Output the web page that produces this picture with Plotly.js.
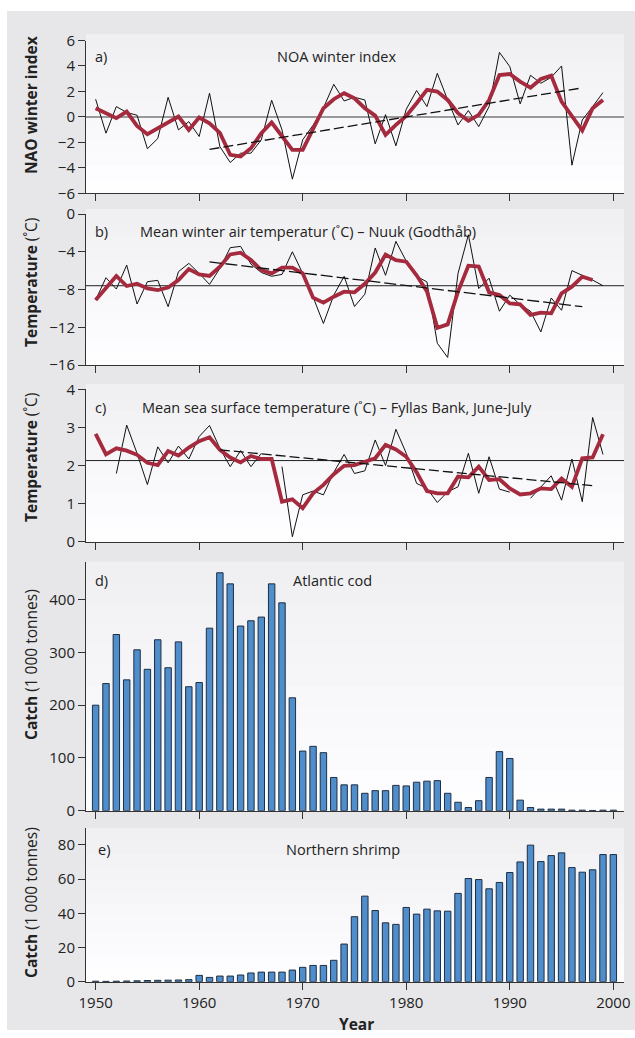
<!DOCTYPE html>
<html>
<head>
<meta charset="utf-8">
<script src="https://cdn.plot.ly/plotly-3.0.1.min.js"></script>
<style>html,body{margin:0;padding:0;background:#fff;}#chart{width:635px;height:1038px;}</style>
</head>
<body>
<div id="chart"></div>
<script>
// ---------- DATA ----------
var years = [1950,1951,1952,1953,1954,1955,1956,1957,1958,1959,
             1960,1961,1962,1963,1964,1965,1966,1967,1968,1969,
             1970,1971,1972,1973,1974,1975,1976,1977,1978,1979,
             1980,1981,1982,1983,1984,1985,1986,1987,1988,1989,
             1990,1991,1992,1993,1994,1995,1996,1997,1998,1999];
var barYears = years.concat([2000]);

// a) NAO winter index
var naoIndex = [1.39,-1.28,0.81,0.35,0.13,-2.5,-1.7,1.54,-1.02,-0.37,
                -1.54,1.86,-2.33,-3.58,-2.85,-2.85,-1.8,1.31,-1.02,-4.89,
                -1.8,-0.65,0.7,2.56,1.25,1.54,1.33,-2.12,0.18,-2.27,
                0.6,2.07,0.81,3.42,1.33,-0.63,0.5,-0.76,0.81,5.07,
                3.95,1.02,3.27,2.64,3.11,4.0,-3.79,-0.24,0.81,1.91];
var naoSmooth = [0.68,0.29,-0.1,0.42,-0.71,-1.36,-0.89,-0.37,0.03,-1.02,
                 -0.05,-0.5,-1.25,-2.98,-3.11,-2.46,-1.28,-0.44,-1.54,-2.59,
                 -2.59,-0.89,0.68,1.39,1.86,1.46,0.68,0.1,-1.41,-0.63,
                 0.08,1.07,2.12,1.99,1.33,0.29,-0.31,0.16,1.33,3.29,
                 3.37,2.77,2.3,2.98,3.24,1.2,0.03,-1.07,0.68,1.33];
var naoMean = 0;
var naoTrendYears = [1961, 1997];
var naoTrend = [-2.55, 2.28];

// b) Mean winter air temperature, Nuuk
var nuukTemp = [-9.12,-6.75,-7.95,-5.41,-9.54,-7.17,-7.03,-9.82,-6.11,-5.23,
                -6.29,-7.46,-5.76,-3.57,-3.43,-5.3,-6.2,-6.6,-6.4,-4.0,
                -6.3,-8.8,-11.6,-8.6,-6.6,-9.8,-8.5,-3.6,-6.5,-2.9,
                -5.0,-6.6,-7.2,-13.7,-15.2,-6.3,-2.2,-7.9,-6.8,-10.3,
                -8.6,-9.6,-10.3,-12.5,-8.9,-10.2,-6.0,-6.5,-7.0,-7.6];
var nuukSmooth = [-9.12,-7.88,-6.57,-7.63,-7.39,-7.88,-8.06,-7.8,-7.0,-5.83,
                  -6.4,-6.57,-5.58,-4.28,-4.1,-4.88,-5.94,-6.29,-5.69,-5.69,
                  -6.29,-8.87,-9.4,-8.76,-8.23,-8.3,-7.4,-6.2,-4.3,-4.9,
                  -5.05,-6.5,-8.2,-12.05,-11.7,-8.23,-5.48,-5.58,-8.3,-8.59,
                  -9.47,-9.58,-10.7,-10.46,-10.53,-8.41,-7.7,-6.64,-7.0,null];
var nuukMean = -7.6;
var nuukTrendYears = [1961, 1997];
var nuukTrend = [-5.07, -9.82];

// c) Mean sea surface temperature, Fyllas Bank, June-July
var sstTemp = [null,null,1.79,3.06,2.32,1.5,2.49,2.07,2.51,2.17,
               2.76,3.05,2.45,1.97,2.39,1.97,2.32,null,1.97,0.13,
               1.23,1.33,1.23,1.82,2.29,1.79,1.86,2.67,2.0,2.95,
               2.32,1.53,1.4,1.03,1.31,1.44,2.32,1.27,2.23,1.38,
               1.3,null,1.14,1.44,1.73,1.09,2.17,1.05,3.26,2.29];
var sstSmooth = [2.83,2.29,2.45,2.39,2.28,2.07,2.01,2.38,2.26,2.47,
                 2.64,2.74,2.41,2.21,2.08,2.25,2.17,2.17,1.05,1.11,
                 0.88,1.27,1.49,1.77,1.99,2.01,2.1,2.19,2.54,2.42,
                 2.23,1.82,1.33,1.27,1.27,1.71,1.69,1.97,1.62,1.64,
                 1.4,1.24,1.27,1.4,1.38,1.66,1.44,2.19,2.21,2.82];
var sstMean = 2.13;
var sstTrendYears = [1962, 1998];
var sstTrend = [2.41, 1.47];

// d) Atlantic cod catch (1 000 tonnes)
var codCatch = [200,241,334,248,305,268,324,271,320,235,
                243,346,451,430,350,360,367,430,394,214,
                113,122,110,63,49,49,33,38,38,48,
                47,54,56,57,33,16,6,19,63,112,
                99,20,6,3,3,3,1,1,0.5,1,1];

// e) Northern shrimp catch (1 000 tonnes)
var shrimpCatch = [0.3,0.2,0.3,0.4,0.5,0.7,0.8,0.9,1.0,1.2,
                   3.7,2.5,3.3,3.3,3.9,5.1,5.6,5.6,5.6,6.8,
                   8.4,9.5,9.5,12.5,22,38,50,41.6,34.4,33.5,
                   43.4,39.5,42.4,41.4,41.2,51.6,60.3,59.7,54.3,58,
                   63.8,70,79.8,70.2,73.7,75.3,66.7,64,65.4,74.3,74.3];

var xTickVals = [1950,1960,1970,1980,1990,2000];
var xTickText = ['1950','1960','1970','1980','1990','2000'];

// ---------- LAYOUT HELPERS ----------
var W = 635, H = 1038;
var FONT = '"Open Sans", "Noto Sans", sans-serif';
function px(x){ return x / W; }
function py(y){ return 1 - y / H; }
var plotLeft = 86, plotRight = 624;
var panels = [
  {top: 40.5, bottom: 193.3, bgTop: 34},
  {top: 214, bottom: 365, bgTop: 209},
  {top: 389.3, bottom: 541.7, bgTop: 384},
  {top: 561.7, bottom: 810.7, bgTop: 561.7},
  {top: 827.7, bottom: 981.7, bgTop: 827.7}
];
var xRange = [1949.07, 2001.03];

var shapes = [];
// outer grey frame
shapes.push({type:'rect', xref:'paper', yref:'paper', x0:px(7), x1:px(635), y0:py(1030), y1:py(11),
             fillcolor:'#e7e7e9', line:{width:0}, layer:'below'});
// panel backgrounds (vertical gradient)
panels.forEach(function(p){
  var n = 12;
  for (var i = 0; i < n; i++){
    var t0 = p.bgTop + (p.bottom - p.bgTop) * i / n;
    var t1 = p.bgTop + (p.bottom - p.bgTop) * (i + 1) / n;
    var f = i / (n - 1);
    var c = Math.round(240 + (254 - 240) * f);
    var col = 'rgb(' + c + ',' + c + ',' + Math.min(255, c + 2) + ')';
    shapes.push({type:'rect', xref:'paper', yref:'paper', x0:px(plotLeft), x1:px(plotRight),
                 y0:py(t1 + 0.5), y1:py(t0), fillcolor:col, line:{width:0}, layer:'below'});
  }
});
// mean reference lines
shapes.push({type:'line', xref:'x domain', yref:'y', x0:0, x1:1, y0:naoMean, y1:naoMean,
             line:{color:'#7a7a7a', width:1.5}, layer:'below'});
shapes.push({type:'line', xref:'x2 domain', yref:'y2', x0:0, x1:1, y0:nuukMean, y1:nuukMean,
             line:{color:'#222', width:1}, layer:'below'});
shapes.push({type:'line', xref:'x3 domain', yref:'y3', x0:0, x1:1, y0:sstMean, y1:sstMean,
             line:{color:'#222', width:1}, layer:'below'});

function xAxis(anchor, showLabels){
  return {
    domain:[px(plotLeft), px(plotRight)], range:xRange, anchor:anchor,
    showline:true, linecolor:'#333', linewidth:1, mirror:false,
    ticks:'outside', ticklen:7, tickcolor:'#333', tickwidth:1,
    tickmode:'array', tickvals:xTickVals, ticktext:xTickText,
    showticklabels:showLabels, showgrid:false, zeroline:false,
    tickfont:{family:FONT, size:15, color:'#222'}
  };
}
function yAxis(anchor, p, range, tickvals){
  return {
    domain:[py(p.bottom), py(p.top)], range:range, anchor:anchor,
    showline:true, linecolor:'#333', linewidth:1,
    ticks:'outside', ticklen:7, tickcolor:'#333', tickwidth:1,
    tickmode:'array', tickvals:tickvals,
    showgrid:false, zeroline:false,
    tickfont:{family:FONT, size:15, color:'#222'}
  };
}

var redCol = '#a52a3e';
var traces = [
  // a
  {x:years, y:naoIndex, xaxis:'x', yaxis:'y', type:'scatter', mode:'lines',
   line:{color:'#111', width:1}, connectgaps:false, hoverinfo:'skip'},
  {x:years, y:naoSmooth, xaxis:'x', yaxis:'y', type:'scatter', mode:'lines',
   line:{color:redCol, width:3.8}, hoverinfo:'skip'},
  {x:naoTrendYears, y:naoTrend, xaxis:'x', yaxis:'y', type:'scatter', mode:'lines',
   line:{color:'#111', width:1.3, dash:'10px,4px'}, hoverinfo:'skip'},
  // b
  {x:years, y:nuukTemp, xaxis:'x2', yaxis:'y2', type:'scatter', mode:'lines',
   line:{color:'#111', width:1}, hoverinfo:'skip'},
  {x:years, y:nuukSmooth, xaxis:'x2', yaxis:'y2', type:'scatter', mode:'lines',
   line:{color:redCol, width:3.8}, hoverinfo:'skip'},
  {x:nuukTrendYears, y:nuukTrend, xaxis:'x2', yaxis:'y2', type:'scatter', mode:'lines',
   line:{color:'#111', width:1.3, dash:'12px,4px'}, hoverinfo:'skip'},
  // c
  {x:years, y:sstTemp, xaxis:'x3', yaxis:'y3', type:'scatter', mode:'lines',
   line:{color:'#111', width:1}, connectgaps:false, hoverinfo:'skip'},
  {x:years, y:sstSmooth, xaxis:'x3', yaxis:'y3', type:'scatter', mode:'lines',
   line:{color:redCol, width:3.8}, hoverinfo:'skip'},
  {x:sstTrendYears, y:sstTrend, xaxis:'x3', yaxis:'y3', type:'scatter', mode:'lines',
   line:{color:'#111', width:1.3, dash:'10px,4px'}, hoverinfo:'skip'},
  // d
  {x:barYears, y:codCatch, xaxis:'x4', yaxis:'y4', type:'bar', width:0.62,
   marker:{color:'#4f8dcb', line:{color:'#1e2f44', width:1}}, hoverinfo:'skip'},
  // e
  {x:barYears, y:shrimpCatch, xaxis:'x5', yaxis:'y5', type:'bar', width:0.62,
   marker:{color:'#4f8dcb', line:{color:'#1e2f44', width:1}}, hoverinfo:'skip'}
];

function ann(text, x, y, opts){
  var a = {text:text, xref:'paper', yref:'paper', x:px(x), y:py(y), showarrow:false,
           xanchor:'center', yanchor:'middle', font:{family:FONT, size:14.5, color:'#222'}};
  for (var k in opts) a[k] = opts[k];
  return a;
}
var annotations = [
  ann('a)', 93, 56.5, {xanchor:'left'}),
  ann('NOA winter index', 336, 57),
  ann('b)', 93, 231, {xanchor:'left'}),
  ann('Mean winter air temperatur (˚C) – Nuuk (Godthåb)', 307.5, 231),
  ann('c)', 93, 407, {xanchor:'left'}),
  ann('Mean sea surface temperature (˚C) – Fyllas Bank, June-July', 336.7, 407),
  ann('d)', 93, 580, {xanchor:'left'}),
  ann('Atlantic cod', 332, 580),
  ann('e)', 96, 849, {xanchor:'left'}),
  ann('Northern shrimp', 343, 849),
  // axis titles
  ann('<b>NAO winter index</b>', 31, 105, {textangle:-90, font:{family:FONT, size:15.5, color:'#222'}}),
  ann('<b>Temperature</b> (˚C)', 31, 283, {textangle:-90, font:{family:FONT, size:15.5, color:'#222'}}),
  ann('<b>Temperature</b> (˚C)', 31, 458, {textangle:-90, font:{family:FONT, size:15.5, color:'#222'}}),
  ann('<b>Catch</b> (1 000 tonnes)', 31, 665, {textangle:-90, font:{family:FONT, size:15.5, color:'#222'}}),
  ann('<b>Catch</b> (1 000 tonnes)', 31, 903, {textangle:-90, font:{family:FONT, size:15.5, color:'#222'}}),
  ann('<b>Year</b>', 356, 1024, {font:{family:FONT, size:15.5, color:'#222'}})
];

var layout = {
  width:W, height:H, margin:{l:0, r:0, t:0, b:0},
  paper_bgcolor:'#ffffff', plot_bgcolor:'rgba(0,0,0,0)',
  showlegend:false, bargap:0.38,
  font:{family:FONT, color:'#222'},
  xaxis: xAxis('y', false),
  xaxis2: xAxis('y2', false),
  xaxis3: xAxis('y3', false),
  xaxis4: xAxis('y4', false),
  xaxis5: xAxis('y5', true),
  yaxis: yAxis('x', panels[0], [-6, 6], [-6,-4,-2,0,2,4,6]),
  yaxis2: yAxis('x2', panels[1], [-16, 0], [-16,-12,-8,-4,0]),
  yaxis3: yAxis('x3', panels[2], [0, 4], [0,1,2,3,4]),
  yaxis4: yAxis('x4', panels[3], [0, 472], [0,100,200,300,400]),
  yaxis5: yAxis('x5', panels[4], [0, 90], [0,20,40,60,80]),
  shapes:shapes,
  annotations:annotations
};

Plotly.newPlot('chart', traces, layout, {staticPlot:true, displayModeBar:false});
</script>
</body>
</html>
